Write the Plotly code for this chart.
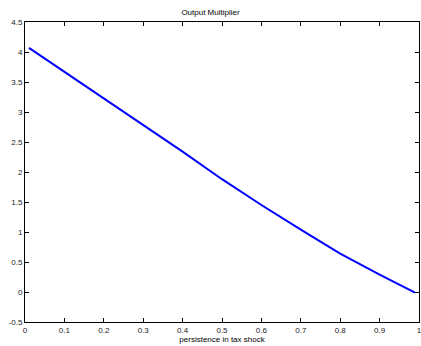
import plotly.graph_objects as go

persistence = [0.01, 0.1, 0.2, 0.3, 0.4, 0.5, 0.6, 0.7, 0.8, 0.9, 0.99]
multiplier = [4.07, 3.67, 3.22, 2.78, 2.34, 1.88, 1.45, 1.04, 0.64, 0.29, -0.01]

x_ticks = [0, 0.1, 0.2, 0.3, 0.4, 0.5, 0.6, 0.7, 0.8, 0.9, 1]
x_tick_text = ["0", "0.1", "0.2", "0.3", "0.4", "0.5", "0.6", "0.7", "0.8", "0.9", "1"]
y_ticks = [-0.5, 0, 0.5, 1, 1.5, 2, 2.5, 3, 3.5, 4, 4.5]
y_tick_text = ["-0.5", "0", "0.5", "1", "1.5", "2", "2.5", "3", "3.5", "4", "4.5"]

fig = go.Figure()
fig.add_trace(go.Scatter(x=persistence, y=multiplier, mode="lines",
                         line=dict(color="#0000FF", width=2), showlegend=False))

font = dict(family="Liberation Sans, Arial, Helvetica, sans-serif", size=8, color="#222")
axis_common = dict(showgrid=False, zeroline=False, showline=True, linecolor="black",
                   linewidth=1, mirror="ticks", ticks="inside", ticklen=4,
                   tickcolor="black", tickwidth=1, tickfont=font, automargin=False,
                   ticklabeloverflow="allow")

fig.update_layout(
    width=421, height=346,
    margin=dict(l=25, r=2, t=22, b=24),
    paper_bgcolor="white", plot_bgcolor="white",
    title=dict(text="Output Multiplier", x=0.5, xanchor="center", y=1 - 12/346,
               yanchor="middle", font=dict(family=font["family"], size=8, color="black")),
    xaxis=dict(range=[0, 1], tickvals=x_ticks, ticktext=x_tick_text,
               title=dict(text="persistence in tax shock", standoff=1,
                          font=dict(family=font["family"], size=8, color="black")),
               **axis_common),
    yaxis=dict(range=[-0.5, 4.5], tickvals=y_ticks, ticktext=y_tick_text, **axis_common),
)

fig.write_html(
    "out.html",
    config={"displayModeBar": False},
    post_script="document.body.style.margin='0';document.body.style.overflow='hidden';",
)
